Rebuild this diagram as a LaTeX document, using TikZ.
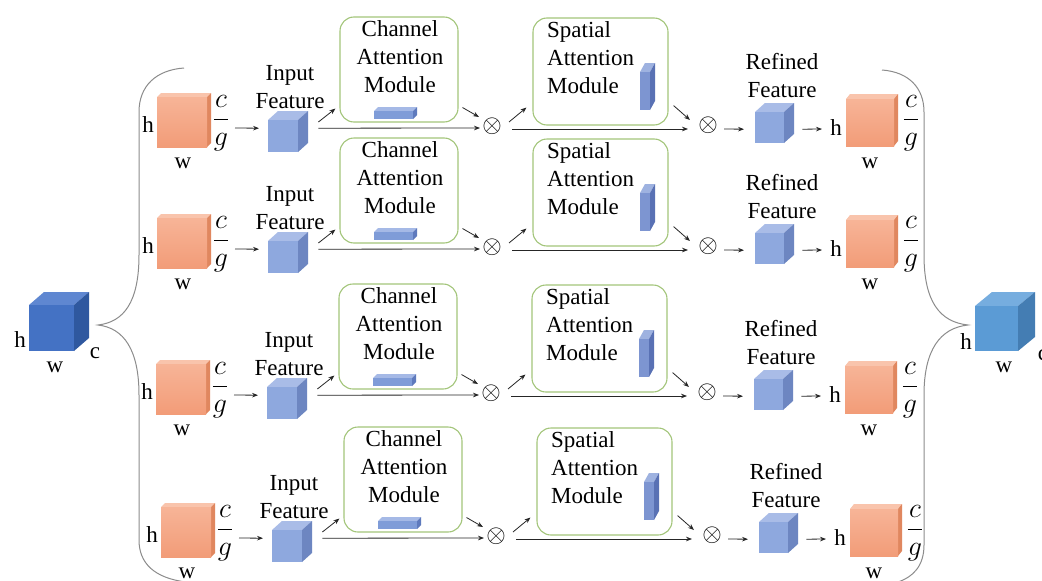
\RequirePackage{fix-cm}
\documentclass[tikz,border=0pt]{standalone}
\usepackage{fontspec}
\setmainfont{Liberation Serif}
\usetikzlibrary{arrows.meta,calc}

\newcommand{\lblfont}{\fontsize{23}{28}\selectfont}
\newcommand{\fracfont}{\fontsize{28}{30}\selectfont}
\newcommand{\opfont}{\fontsize{25}{28}\selectfont}

% face colours of the cuboids
\definecolor{orF1}{HTML}{F7B497}
\definecolor{orF2}{HTML}{F29C78}
\definecolor{orT}{HTML}{F9C4AC}
\definecolor{orS}{HTML}{E0875F}
\definecolor{blF}{HTML}{8EA8DE}
\definecolor{blT}{HTML}{A9BCE7}
\definecolor{blS}{HTML}{6D86C1}
\definecolor{barF}{HTML}{7F9CD8}
\definecolor{barT}{HTML}{A5B9E6}
\definecolor{barS}{HTML}{5E7ABD}
\definecolor{plF}{HTML}{7D95D1}
\definecolor{plT}{HTML}{9EB2E0}
\definecolor{plS}{HTML}{5971B4}
\definecolor{dkF}{HTML}{4472C4}
\definecolor{dkT}{HTML}{5F87D1}
\definecolor{dkS}{HTML}{2F589F}
\definecolor{ltF}{HTML}{5B9BD5}
\definecolor{ltT}{HTML}{76ADDF}
\definecolor{ltS}{HTML}{447DB3}
\definecolor{boxgreen}{HTML}{A3C57A}
\definecolor{bracegray}{HTML}{8C8C8C}

\tikzset{
  lbl/.style={inner sep=0pt, font=\lblfont},
  fraclbl/.style={inner sep=0pt, font=\fracfont},
  oplbl/.style={inner sep=0pt, font=\opfont},
  arr/.style={-{Stealth[length=6pt,width=4.6pt]}, line width=0.8pt, draw=black!85},
  modbox/.style={draw=boxgreen, line width=1.1pt, rounded corners=14pt,
    minimum width=118, minimum height=105, inner sep=0pt},
  brace/.style={draw=bracegray, line width=1pt},
  or front/.style={top color=orF1, bottom color=orF2},
  or top/.style={fill=orT}, or side/.style={fill=orS},
  bl front/.style={fill=blF}, bl top/.style={fill=blT}, bl side/.style={fill=blS},
  bar front/.style={fill=barF}, bar top/.style={fill=barT}, bar side/.style={fill=barS},
  pl front/.style={fill=plF}, pl top/.style={fill=plT}, pl side/.style={fill=plS},
  dk front/.style={fill=dkF}, dk top/.style={fill=dkT}, dk side/.style={fill=dkS},
  lt front/.style={fill=ltF}, lt top/.style={fill=ltT}, lt side/.style={fill=ltS},
}

% cuboid: name, x, y (top-left of front face), width, height, depth x, depth y, colour set
\newcommand{\boxcube}[8]{%
  \fill[#8 top] (#2,#3) -- ++(#6,-#7) -- ++(#4,0) -- ++(-#6,#7) -- cycle;
  \fill[#8 side] (#2+#4,#3) -- ++(#6,-#7) -- ++(0,#5) -- ++(-#6,#7) -- cycle;
  \node[#8 front, inner sep=0pt, minimum width=#4, minimum height=#5,
        anchor=north west] (#1) at (#2,#3) {};
}

\begin{document}
\begin{tikzpicture}[x=1pt,y=-1pt]
\fill[white] (0,0) rectangle (1042,581);
\useasboundingbox (0,0) rectangle (1042,581);

% input tensor
\boxcube{lc}{29}{305}{45}{46}{15}{13}{dk}
\node[lbl] (lch) at (20,340) {h};
\node[lbl] (lcw) at (55,367) {w};
\node[lbl] (lcc) at (95,353) {c};

% output tensor
\boxcube{rc}{975}{306}{43}{45}{17}{14}{lt}
\node[lbl] (rch) at (966,342) {h};
\node[lbl] (rcw) at (1004,367) {w};
\node[lbl] (rcc) at (1043,355) {c};

% split brace
\draw[brace] (184,68) .. controls (156,70) and (139,86) .. (139,112)
  -- (139,255) .. controls (139,302) and (124,322) .. (98,325)
  .. controls (124,328) and (139,350) .. (139,395)
  -- (139,540) .. controls (139,563) and (154,578) .. (186,582);

% merge brace
\draw[brace] (882,70) .. controls (909,72) and (924,88) .. (924,112)
  -- (924,255) .. controls (924,302) and (940,322) .. (968,325)
  .. controls (940,328) and (924,350) .. (924,395)
  -- (924,545) .. controls (924,566) and (913,577) .. (898,582);

% one attention branch per group
\foreach \r/\Y/\D in {1/128/0,2/249/0,3/395/-1,4/538/4}{
  \begin{scope}[shift={(\D,\Y)}]
    \boxcube{oin\r}{157}{-31}{50}{50}{4}{4}{or}
    \node[lbl] (hin\r) at (148,-3) {h};
    \node[lbl] (win\r) at (183,35) {w};
    \node[fraclbl] (fin\r) at (221,-5) {$\displaystyle\frac{c}{g}$};
    \boxcube{inp\r}{268}{-8}{30}{32}{10}{9}{bl}
    \node[lbl, align=center] (tin\r) at (290,-41) {Input\\Feature};
    \node[modbox] (cam\r) at (399,-58.5) {};
    \node[lbl, align=center] (tcam\r) at (400,-71) {Channel\\Attention\\Module};
    \boxcube{bar\r}{374}{-17}{39}{8}{4}{4}{bar}
    \node[oplbl] (ox\r) at (492,-2) {$\otimes$};
    \node[modbox, minimum width=135, minimum height=107] (sam\r) at (600.5,-56.5) {};
    \node[lbl, align=left, anchor=west] (tsam\r) at (547,-70) {Spatial\\Attention\\Module};
    \boxcube{pl\r}{640}{-56}{10}{38}{5}{9}{pl}
    \node[oplbl] (oy\r) at (708,-3) {$\otimes$};
    \boxcube{ref\r}{755}{-16}{29}{31}{10}{9}{bl}
    \node[lbl, align=center] (tref\r) at (782,-52) {Refined\\Feature};
    \node[lbl] (hout\r) at (836,0) {h};
    \boxcube{oout\r}{846}{-29}{48}{47}{4}{5}{or}
    \node[fraclbl] (fout\r) at (911,-5) {$\displaystyle\frac{c}{g}$};
    \node[lbl] (wout\r) at (870,35) {w};
  \end{scope}
  \draw[arr] ($(fin\r)+(14,5)$) -- ($(inp\r.west)+(-9,-8)$);
  \draw[arr] ($(inp\r.north east)+(20,2)$) -- ($(cam\r.south west)+(-4,-14)$);
  \draw[arr] ($(inp\r.east)+(20,-8)$) -- ($(ox\r)+(-12,2)$);
  \draw[arr] ($(cam\r.south east)+(4,-15)$) -- ($(ox\r)+(-13,-9)$);
  \draw[arr] ($(ox\r)+(17,-4)$) -- ($(sam\r.south west)+(-6,-18)$);
  \draw[arr] ($(ox\r)+(20,3)$) -- ($(oy\r)+(-20,4)$);
  \draw[arr] ($(sam\r.south east)+(5,-20)$) -- ($(oy\r)+(-18,-5)$);
  \draw[arr] ($(oy\r)+(16,4)$) -- ($(ref\r.west)+(-11,1.5)$);
  \draw[arr] ($(ref\r.east)+(18,1.5)$) -- ($(hout\r)+(-14,1)$);
}
\end{tikzpicture}
\end{document}
